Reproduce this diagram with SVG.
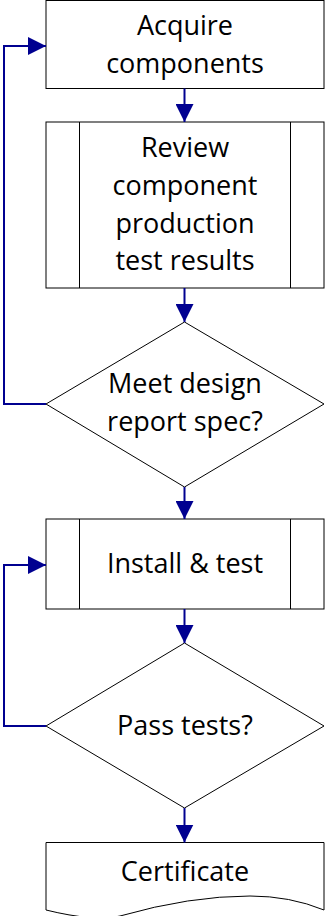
<svg xmlns="http://www.w3.org/2000/svg" width="327" height="916" viewBox="0 0 327 916">
<defs>
<style>
.n{fill:#fff;stroke:#000;stroke-width:1}
.t{font-family:"Open Sans","Liberation Sans",sans-serif;font-size:27px;fill:#000;text-anchor:middle}
.c{fill:none;stroke:#000090;stroke-width:2}
</style>
<marker id="ah" markerUnits="userSpaceOnUse" markerWidth="18" markerHeight="18" refX="18" refY="9" orient="auto">
<path d="M0,0 L18,9 L0,18 Z" fill="#000090"/>
</marker>
</defs>
<g id="acquire">
<rect class="n" x="46" y="0.5" width="278" height="88"/>
<text class="t" x="185" y="35">Acquire</text>
<text class="t" x="185" y="73">components</text>
</g>
<g id="review">
<rect class="n" x="46" y="122" width="278" height="166"/>
<line class="n" x1="79.5" y1="122" x2="79.5" y2="288"/>
<line class="n" x1="290.5" y1="122" x2="290.5" y2="288"/>
<text class="t" x="185" y="157">Review</text>
<text class="t" x="185" y="195">component</text>
<text class="t" x="185" y="233">production</text>
<text class="t" x="185" y="270">test results</text>
</g>
<g id="meet">
<polygon class="n" points="184.5,322 324,404 184.5,487 46,404"/>
<text class="t" x="185" y="393">Meet design</text>
<text class="t" x="185" y="431">report spec?</text>
</g>
<g id="install">
<rect class="n" x="46" y="519" width="278" height="90"/>
<line class="n" x1="79.5" y1="519" x2="79.5" y2="609"/>
<line class="n" x1="290.5" y1="519" x2="290.5" y2="609"/>
<text class="t" x="185" y="573">Install &amp; test</text>
</g>
<g id="pass">
<polygon class="n" points="184.5,643 324,726 184.5,808 46,726"/>
<text class="t" x="185" y="735">Pass tests?</text>
</g>
<g id="certificate">
<path class="n" d="M46,910 L46,842.5 L324,842.5 L324,910 Q290,896 250,896 Q190,896 120,916 Q95,922 46,910 Z"/>
<text class="t" x="185" y="881">Certificate</text>
</g>
<g id="connectors">
<line class="c" x1="184.5" y1="88.5" x2="184.5" y2="122" marker-end="url(#ah)"/>
<line class="c" x1="184.5" y1="288" x2="184.5" y2="322" marker-end="url(#ah)"/>
<polyline class="c" points="46,404 4,404 4,46 46,46" marker-end="url(#ah)"/>
<line class="c" x1="184.5" y1="487" x2="184.5" y2="519" marker-end="url(#ah)"/>
<line class="c" x1="184.5" y1="609" x2="184.5" y2="643" marker-end="url(#ah)"/>
<polyline class="c" points="46,726 4,726 4,565 46,565" marker-end="url(#ah)"/>
<line class="c" x1="184.5" y1="808" x2="184.5" y2="842.5" marker-end="url(#ah)"/>
</g>
</svg>
